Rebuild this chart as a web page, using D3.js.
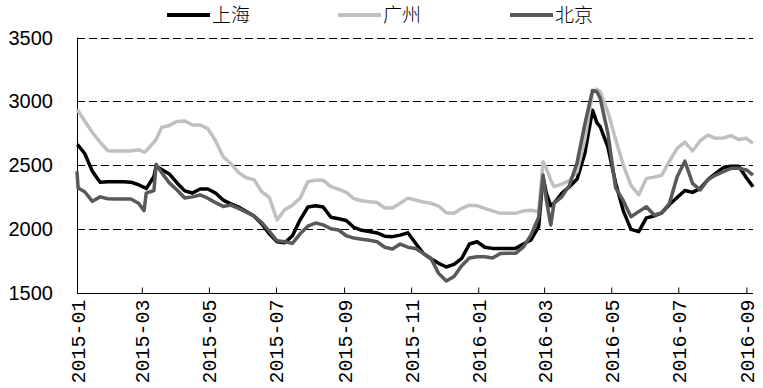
<!DOCTYPE html>
<html>
<head>
<meta charset="utf-8">
<script src="https://cdn.jsdelivr.net/npm/d3@7"></script>
<style>
  body { margin: 0; background: #fff; }
  svg { display: block; }
</style>
</head>
<body>
<svg id="chart"></svg>
<script>
// dates of the samples (weekly, with a few extra days around the spikes)
const dates = [
  "2015-01-01","2015-01-02","2015-01-08","2015-01-15","2015-01-22","2015-01-29",
  "2015-02-05","2015-02-12","2015-02-19","2015-02-26","2015-03-03","2015-03-05",
  "2015-03-12","2015-03-14","2015-03-19","2015-03-26","2015-04-02","2015-04-09",
  "2015-04-16","2015-04-23","2015-04-30","2015-05-07","2015-05-14","2015-05-21",
  "2015-05-28","2015-06-04","2015-06-11","2015-06-18","2015-06-25","2015-07-02",
  "2015-07-09","2015-07-16","2015-07-23","2015-07-30","2015-08-06","2015-08-13",
  "2015-08-20","2015-08-27","2015-09-03","2015-09-10","2015-09-17","2015-09-24",
  "2015-10-01","2015-10-08","2015-10-15","2015-10-22","2015-10-29","2015-11-05",
  "2015-11-12","2015-11-19","2015-11-26","2015-12-03","2015-12-10","2015-12-17",
  "2015-12-24","2015-12-31","2016-01-07","2016-01-14","2016-01-21","2016-01-28",
  "2016-02-04","2016-02-11","2016-02-18","2016-02-25","2016-02-29","2016-03-03",
  "2016-03-07","2016-03-10","2016-03-17","2016-03-24","2016-03-31","2016-04-07",
  "2016-04-14","2016-04-18","2016-04-21","2016-04-28","2016-05-05","2016-05-12",
  "2016-05-19","2016-05-26","2016-06-02","2016-06-09","2016-06-16","2016-06-23",
  "2016-06-30","2016-07-07","2016-07-14","2016-07-21","2016-07-28","2016-08-04",
  "2016-08-11","2016-08-18","2016-08-25","2016-09-01","2016-09-07"
];

const shanghai = [
  2660,2655,2590,2450,2365,2369,
  2369,2369,2365,2345,2325,2315,
  2410,2492,2465,2430,2359,2297,
  2280,2312,2312,2280,2225,2195,
  2170,2135,2100,2040,1960,1898,
  1890,1945,2070,2170,2180,2170,
  2090,2078,2065,2010,1988,1978,
  1967,1942,1938,1950,1968,1886,
  1807,1765,1729,1700,1720,1768,
  1880,1898,1855,1846,1846,1846,
  1846,1880,1912,2016,2408,2278,
  2180,2200,2278,2330,2390,2590,
  2930,2830,2800,2640,2360,2140,
  1995,1977,2085,2100,2125,2190,
  2245,2300,2285,2317,2385,2435,
  2480,2490,2490,2400,2330
];

const guangzhou = [
  2931,2925,2845,2755,2680,2612,
  2610,2610,2610,2620,2600,2610,
  2680,2700,2795,2810,2842,2846,
  2814,2814,2785,2690,2565,2510,
  2440,2400,2385,2290,2245,2069,
  2150,2185,2240,2369,2380,2380,
  2330,2310,2285,2235,2220,2212,
  2205,2163,2163,2200,2240,2225,
  2210,2200,2178,2125,2121,2160,
  2185,2180,2160,2140,2121,2121,
  2121,2140,2145,2134,2526,2474,
  2382,2330,2350,2378,2450,2700,
  3065,3095,3075,2915,2700,2500,
  2340,2265,2395,2405,2420,2530,
  2631,2680,2610,2690,2735,2709,
  2712,2730,2700,2709,2670
];

const beijing = [
  2450,2320,2290,2215,2250,2235,
  2233,2233,2233,2200,2142,2280,
  2300,2505,2440,2360,2304,2241,
  2250,2265,2240,2205,2175,2186,
  2160,2130,2100,2050,1980,1905,
  1898,1885,1960,2020,2045,2030,
  2000,1990,1945,1927,1918,1910,
  1898,1855,1841,1880,1855,1845,
  1807,1768,1650,1590,1625,1710,
  1770,1781,1780,1770,1805,1807,
  1807,1855,1950,2090,2421,2225,
  2029,2200,2250,2340,2520,2820,
  3085,3075,3023,2749,2320,2220,
  2094,2134,2173,2108,2125,2200,
  2408,2530,2356,2304,2385,2421,
  2447,2474,2475,2461,2421
];

const seriesNames = ["上海", "广州", "北京"];
const seriesColors = ["#000000", "#c0c0c0", "#595959"];

const xTickLabels = ["2015-01","2015-03","2015-05","2015-07","2015-09","2015-11",
                     "2016-01","2016-03","2016-05","2016-07","2016-09"];
const yTicks = [1500, 2000, 2500, 3000, 3500];

const width = 763, height = 388;
const margin = {top: 37.5, right: 10, bottom: 95.5, left: 77};
const plotRight = width - margin.right;
const plotBottom = height - margin.bottom;

const parse = d3.timeParse("%Y-%m-%d");
const parseMonth = d3.timeParse("%Y-%m");

const svg = d3.select("#chart")
  .attr("width", width)
  .attr("height", height);

const x = d3.scaleTime()
  .domain([parse("2015-01-01"), parse("2016-09-07")])
  .range([margin.left, plotRight]);

const y = d3.scaleLinear()
  .domain([1500, 3500])
  .range([plotBottom, margin.top]);

// dashed grid lines
svg.append("g")
  .selectAll("line")
  .data(yTicks.filter(d => d > 1500))
  .enter().append("line")
  .attr("x1", margin.left)
  .attr("x2", plotRight)
  .attr("y1", d => Math.round(y(d)) + 0.5)
  .attr("y2", d => Math.round(y(d)) + 0.5)
  .attr("stroke", "#000")
  .attr("stroke-width", 1)
  .attr("stroke-dasharray", "8,4");

// y labels
svg.append("g")
  .selectAll("text")
  .data(yTicks)
  .enter().append("text")
  .attr("x", 53)
  .attr("y", d => y(d))
  .attr("dy", "0.36em")
  .attr("text-anchor", "end")
  .style("font-family", "'Liberation Sans', Arial, sans-serif")
  .style("font-size", "20px")
  .text(d => d);

// y axis line
svg.append("line")
  .attr("x1", margin.left + 0.5).attr("x2", margin.left + 0.5)
  .attr("y1", margin.top).attr("y2", plotBottom)
  .attr("stroke", "#000");

// x axis with inner ticks
const xAxis = d3.axisBottom(x)
  .tickValues(xTickLabels.map(parseMonth))
  .tickSize(-6)
  .tickFormat(d3.timeFormat("%Y-%m"));

const xg = svg.append("g")
  .attr("transform", "translate(0," + (Math.round(plotBottom) + 0.5) + ")")
  .call(xAxis);

xg.select(".domain")
  .attr("d", "M" + margin.left + ",0H" + plotRight);

xg.selectAll("line").attr("stroke", "#000");

xg.selectAll("text")
  .attr("transform", "rotate(-90)")
  .attr("x", -6)
  .attr("y", 0)
  .attr("dy", "0.35em")
  .attr("text-anchor", "end")
  .style("font-family", "'Liberation Mono', monospace")
  .style("font-size", "20px")
  .attr("fill", "#000");

// lines
const series = [shanghai, guangzhou, beijing];
const line = d3.line()
  .x((d, i) => x(parse(dates[i])))
  .y(d => y(d));

svg.append("g")
  .selectAll("path")
  .data(series)
  .enter().append("path")
  .attr("d", d => line(d))
  .attr("fill", "none")
  .attr("stroke", (d, i) => seriesColors[i])
  .attr("stroke-width", 3.5)
  .attr("stroke-linejoin", "round");

// legend
const legendX = [167, 338, 510];
const legend = svg.append("g")
  .selectAll("g")
  .data(seriesNames)
  .enter().append("g")
  .attr("transform", (d, i) => "translate(" + legendX[i] + ",15)");

legend.append("line")
  .attr("x1", 0).attr("x2", 43)
  .attr("y1", 0).attr("y2", 0)
  .attr("stroke", (d, i) => seriesColors[i])
  .attr("stroke-width", 4);

legend.append("text")
  .attr("x", 45)
  .attr("y", 0)
  .attr("dy", "0.36em")
  .style("font-family", "'Noto Sans CJK SC', sans-serif")
  .style("font-size", "19px")
  .style("font-weight", 300)
  .text(d => d);
</script>
</body>
</html>
